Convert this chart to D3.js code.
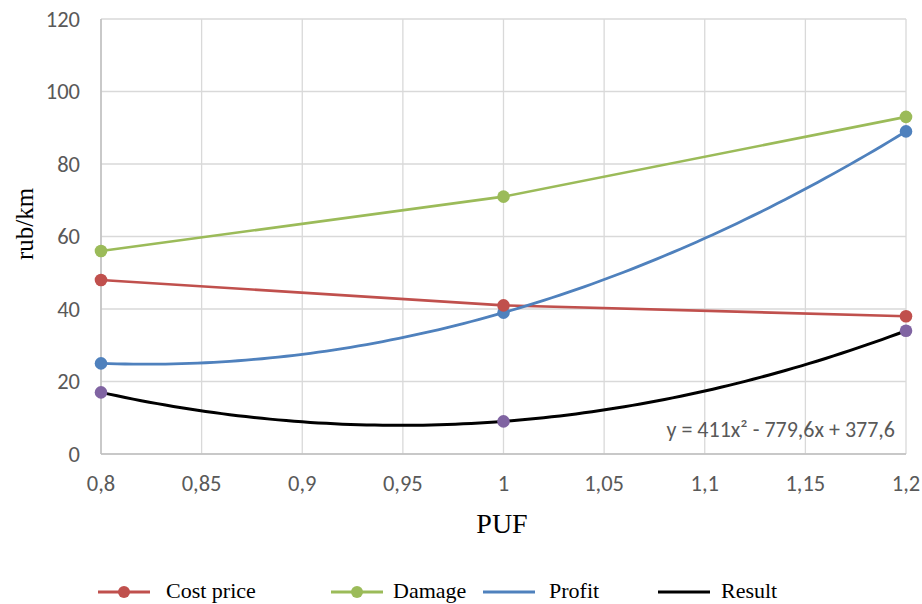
<!DOCTYPE html>
<html><head><meta charset="utf-8">
<script src="https://cdn.jsdelivr.net/npm/d3@7"></script>
<style>body{margin:0;background:#fff}</style>
</head><body>
<script>
const puf = [0.8, 1.0, 1.2];
const costPrice = [48, 41, 38];
const damage = [56, 71, 93];
const profit = [25, 39, 89];
const result = [17, 9, 34];
const xTicks = [0.8, 0.85, 0.9, 0.95, 1.0, 1.05, 1.1, 1.15, 1.2];
const yTicks = [0, 20, 40, 60, 80, 100, 120];
const equationLabel = "y = 411x² - 779,6x + 377,6";

const W = 922, H = 604;
const svg = d3.select("body").append("svg").attr("width", W).attr("height", H);
const x = d3.scaleLinear().domain([0.8, 1.2]).range([101, 906]);
const y = d3.scaleLinear().domain([0, 120]).range([454, 19]);
const fmt = v => String(+v.toFixed(2)).replace(".", ",");
const tickFont = "Carlito, Calibri, 'Liberation Sans', sans-serif";

// grid
svg.append("g").selectAll("line").data(yTicks).join("line")
  .attr("x1", x(0.8)).attr("x2", x(1.2)).attr("y1", d => y(d)).attr("y2", d => y(d))
  .attr("stroke", "#d9d9d9").attr("stroke-width", 1.3);
svg.append("g").selectAll("line").data(xTicks).join("line")
  .attr("y1", y(0)).attr("y2", y(120)).attr("x1", d => x(d)).attr("x2", d => x(d))
  .attr("stroke", "#d9d9d9").attr("stroke-width", 1.3);
// axes lines
svg.append("line").attr("x1", x(0.8)).attr("x2", x(0.8)).attr("y1", y(0)).attr("y2", y(120)).attr("stroke", "#bfbfbf").attr("stroke-width", 1.5);
svg.append("line").attr("x1", x(0.8)).attr("x2", x(1.2)).attr("y1", y(0)).attr("y2", y(0)).attr("stroke", "#bfbfbf").attr("stroke-width", 1.5);

// tick labels
svg.append("g").selectAll("text").data(yTicks).join("text")
  .attr("x", 80).attr("y", d => y(d)).attr("dy", "0.35em").attr("text-anchor", "end")
  .attr("font-family", tickFont).attr("font-size", 22.5).attr("fill", "#595959").text(d => d);
svg.append("g").selectAll("text").data(xTicks).join("text")
  .attr("x", d => x(d)).attr("y", 491).attr("text-anchor", "middle")
  .attr("font-family", tickFont).attr("font-size", 22.5).attr("fill", "#595959").text(fmt);

// axis titles
svg.append("text").attr("transform", "translate(33,224) rotate(-90)").attr("text-anchor", "middle")
  .attr("font-family", "'Liberation Serif', 'Times New Roman', serif").attr("font-size", 25).attr("fill", "#000").text("rub/km");
svg.append("text").attr("x", 502).attr("y", 533).attr("text-anchor", "middle")
  .attr("font-family", "'Liberation Serif', 'Times New Roman', serif").attr("font-size", 28).attr("fill", "#000").text("PUF");

// quadratic least-squares trendline from data
function quadFit(xs, ys) {
  let S = [0,0,0,0,0], T = [0,0,0];
  xs.forEach((xi, i) => { for (let k = 0; k < 5; k++) S[k] += Math.pow(xi, k); for (let k = 0; k < 3; k++) T[k] += ys[i] * Math.pow(xi, k); });
  const A = [[S[0],S[1],S[2],T[0]],[S[1],S[2],S[3],T[1]],[S[2],S[3],S[4],T[2]]];
  for (let i = 0; i < 3; i++) { for (let j = i+1; j < 3; j++) { const f = A[j][i]/A[i][i]; for (let k = i; k < 4; k++) A[j][k] -= f*A[i][k]; } }
  const c = [0,0,0];
  for (let i = 2; i >= 0; i--) { let s = A[i][3]; for (let k = i+1; k < 3; k++) s -= A[i][k]*c[k]; c[i] = s/A[i][i]; }
  return xv => c[0] + c[1]*xv + c[2]*xv*xv;
}
const samples = d3.range(0, 101).map(i => 0.8 + 0.4 * i / 100);
const lineFn = d3.line().x(d => x(d[0])).y(d => y(d[1]));

const straight = [
  {vals: costPrice, color: "#C0504D"},
  {vals: damage, color: "#9BBB59"}
];
straight.forEach(s => {
  svg.append("path").datum(puf.map((p, i) => [p, s.vals[i]])).attr("d", lineFn)
    .attr("fill", "none").attr("stroke", s.color).attr("stroke-width", 2.6);
});
const fP = quadFit(puf, profit);
svg.append("path").datum(samples.map(s => [s, fP(s)])).attr("d", lineFn)
  .attr("fill", "none").attr("stroke", "#4F81BD").attr("stroke-width", 2.8);
const fR = quadFit(puf, result);
svg.append("path").datum(samples.map(s => [s, fR(s)])).attr("d", lineFn)
  .attr("fill", "none").attr("stroke", "#000").attr("stroke-width", 3);

const markerSets = [
  {vals: result, color: "#8064A2"},
  {vals: profit, color: "#4F81BD"},
  {vals: costPrice, color: "#C0504D"},
  {vals: damage, color: "#9BBB59"}
];
markerSets.forEach(s => {
  svg.append("g").selectAll("circle").data(puf.map((p, i) => [p, s.vals[i]])).join("circle")
    .attr("cx", d => x(d[0])).attr("cy", d => y(d[1])).attr("r", 6.3).attr("fill", s.color);
});

svg.append("text").attr("x", 895).attr("y", 437).attr("text-anchor", "end")
  .attr("font-family", tickFont).attr("font-size", 22).attr("fill", "#595959").text(equationLabel);

const legend = [
  {name: "Cost price", color: "#C0504D", marker: true, x0: 98, tx: 166},
  {name: "Damage", color: "#9BBB59", marker: true, x0: 331, tx: 393},
  {name: "Profit", color: "#4F81BD", marker: false, x0: 483, tx: 549},
  {name: "Result", color: "#000", marker: false, x0: 658, tx: 721}
];
const lg = svg.append("g").selectAll("g").data(legend).join("g");
lg.append("line").attr("x1", d => d.x0).attr("x2", d => d.x0 + 52).attr("y1", 592).attr("y2", 592)
  .attr("stroke", d => d.color).attr("stroke-width", 3);
lg.filter(d => d.marker).append("circle").attr("cx", d => d.x0 + 26).attr("cy", 592).attr("r", 6).attr("fill", d => d.color);
lg.append("text").attr("x", d => d.tx).attr("y", 598)
  .attr("font-family", "'Liberation Serif', 'Times New Roman', serif").attr("font-size", 22).attr("fill", "#000").text(d => d.name);
</script>
</body></html>
